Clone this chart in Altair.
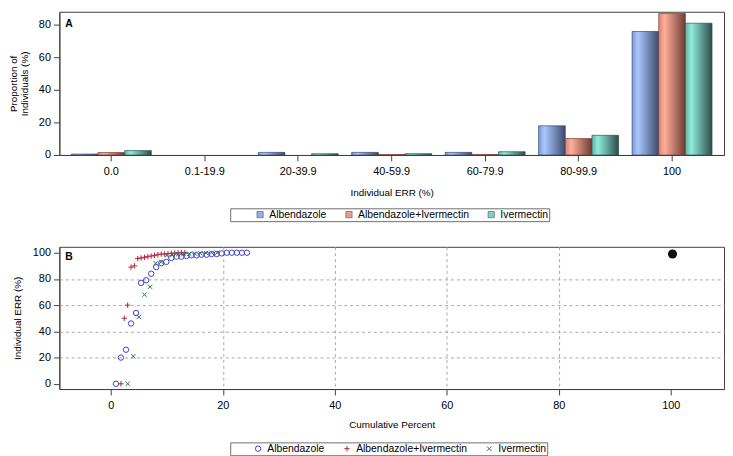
import altair as alt
import pandas as pd

# ---------------- Panel A data ----------------
err_bins = ["0.0", "0.1-19.9", "20-39.9", "40-59.9", "60-79.9", "80-99.9", "100"]
treatments = ["Albendazole", "Albendazole+Ivermectin", "Ivermectin"]
alb_pct = [0.6, 0.0, 1.6, 1.6, 1.6, 17.9, 75.9]
albiver_pct = [1.5, 0.0, 0.0, 0.3, 0.3, 10.1, 86.9]
iver_pct = [2.7, 0.0, 0.8, 0.8, 2.0, 12.1, 81.0]

# ---------------- Panel B data ----------------
alb_cum = [0.9, 1.8, 2.7, 3.6, 4.5, 5.4, 6.3, 7.2, 8.1, 9.0, 9.9, 10.8, 11.7, 12.6,
           13.5, 14.4, 15.3, 16.2, 17.1, 18.0, 18.9, 19.8, 20.7, 21.6, 22.5, 23.4, 24.3]
alb_err = [0, 20, 26, 46, 54, 77, 79, 84, 89, 92, 93, 96, 97, 97, 97.5, 98, 98,
           98.5, 98.5, 99, 99, 99.5, 100, 100, 100, 100, 100]
albiver_cum = [1.8, 2.4, 3.0, 3.6, 4.2, 4.8, 5.4, 6.0, 6.6, 7.2, 7.8, 8.4, 9.0, 9.6,
               10.2, 10.8, 11.4, 12.0, 12.6, 13.2]
albiver_err = [0, 50, 60, 89, 90, 95.5, 96, 96.5, 97, 97.5, 98, 98.5, 99, 99, 99.3,
               99.5, 99.7, 100, 100, 100]
iver_cum = [3.0, 4.0, 5.0, 6.0, 7.0, 8.0, 9.0, 10.0, 11.0, 12.0, 13.0, 14.0, 15.0,
            16.0, 17.0, 18.0, 19.0]
iver_err = [0, 21, 51, 68, 74, 92, 93, 98, 98.5, 98.8, 99, 99.2, 99.4, 99.6, 99.8,
            100, 100]
overlap_cum = [100.3]
overlap_err = [99.0]

bar_df = pd.DataFrame({
    "bin": err_bins * 3,
    "treatment": [t for t in treatments for _ in err_bins],
    "pct": alb_pct + albiver_pct + iver_pct,
})
pt_df = pd.DataFrame({
    "cum": alb_cum + albiver_cum + iver_cum,
    "err": alb_err + albiver_err + iver_err,
    "treatment": ([treatments[0]] * len(alb_cum) + [treatments[1]] * len(albiver_cum)
                  + [treatments[2]] * len(iver_cum)),
})
ov_df = pd.DataFrame({"cum": overlap_cum, "err": overlap_err})

FONT = "Liberation Sans"
flat = ["#93b0e8", "#ee9c8a", "#7ad2c2"]
dark = ["#33415e", "#6a3a30", "#2c4a46"]


def grad(c0, c1, c2):
    return {"gradient": "linear", "x1": 0, "x2": 1, "y1": 0, "y2": 0,
            "stops": [{"offset": 0, "color": c0}, {"offset": 0.22, "color": c1},
                      {"offset": 1, "color": c2}]}


grads = [grad("#7d98d0", "#aac8ff", "#3b4a6c"),
         grad("#d88574", "#ffae9a", "#6e3c32"),
         grad("#5fb2a4", "#90ecdc", "#2d4c48")]

axis_common = dict(labelFont=FONT, labelFontSize=11, labelColor="#000000",
                   titleFont=FONT, titleFontSize=10, titleFontWeight="normal",
                   titleColor="#000000", domainColor="#404040", tickColor="#404040",
                   tickSize=6)

# ---------------- Panel A ----------------
xA = alt.X("bin:N", sort=err_bins,
           scale=alt.Scale(domain=err_bins, paddingInner=0.144, paddingOuter=0.128),
           axis=alt.Axis(title="Individual ERR (%)", labelAngle=0, labelPadding=5,
                         titlePadding=11, **axis_common))
xoffA = alt.XOffset("treatment:N",
                    scale=alt.Scale(domain=treatments, paddingInner=0, paddingOuter=0))
yA = alt.Y("pct:Q", scale=alt.Scale(domain=[0, 88], nice=False),
           axis=alt.Axis(values=[0, 20, 40, 60, 80], tickCount=10,
                         title=["Proportion of", "Individuals (%)"],
                         grid=False, labelPadding=3, titlePadding=9, titleLineHeight=11,
                         **axis_common))

legA = alt.Legend(orient="none", legendX=173, legendY=199, direction="horizontal",
                  title="\u00a0", titleOrient="left", titlePadding=24, titleFontSize=10,
                  strokeColor="#6e6e6e", padding=1, symbolType="square", symbolSize=40,
                  symbolStrokeColor="#555555", symbolStrokeWidth=0.6,
                  labelFont=FONT, labelFontSize=10.5, labelColor="#000000",
                  columnPadding=17, labelOffset=4, fillColor="white")

base_bars = alt.Chart(bar_df).mark_bar().encode(
    x=xA, xOffset=xoffA, y=yA,
    color=alt.Color("treatment:N", scale=alt.Scale(domain=treatments, range=flat), legend=legA),
)
layersA = [base_bars]
for t, g, d in zip(treatments, grads, dark):
    layersA.append(
        alt.Chart(bar_df).transform_filter((alt.datum.treatment == t) & (alt.datum.pct > 0))
        .mark_bar(color=g, stroke=d, strokeWidth=0.6)
        .encode(x=xA, xOffset=xoffA, y=yA)
    )
labA = alt.Chart(pd.DataFrame({"lab": ["A"]})).mark_text(
    font=FONT, fontSize=10.5, fontWeight="bold", align="left", baseline="alphabetic",
    color="#000000").encode(text="lab:N", x=alt.value(6), y=alt.value(15))
layersA.append(labA)
panelA = alt.layer(*layersA).properties(width=673, height=145)

# ---------------- Panel B ----------------
plus_path = "M-1,0L1,0M0,-1L0,1"
x_path = "M-0.8,-0.8L0.8,0.8M-0.8,0.8L0.8,-0.8"
pt_colors = ["#4040c8", "#b8203e", "#2e7058"]
grid_cond = {"condition": {"test": "datum.value == 0 || datum.value == 100", "value": 0},
             "value": 1}

xB = alt.X("cum:Q", scale=alt.Scale(domain=[-9.2, 109.5], nice=False, zero=False),
           axis=alt.Axis(values=[0, 20, 40, 60, 80, 100], tickCount=12,
                         title="Cumulative Percent",
                         grid=True, gridDash=[3, 3], gridColor="#a8a8a8", gridOpacity=grid_cond,
                         labelPadding=5, titlePadding=9, **axis_common))
yB = alt.Y("err:Q", scale=alt.Scale(domain=[-4, 104.5], nice=False, zero=False),
           axis=alt.Axis(values=[0, 20, 40, 60, 80, 100], tickCount=12,
                         title="Individual ERR (%)",
                         grid=True, gridDash=[3, 3], gridColor="#a8a8a8", gridOpacity=grid_cond,
                         labelPadding=3, titlePadding=10, **axis_common))

legB = alt.Legend(orient="none", legendX=173, legendY=198, direction="horizontal",
                  title="\u00a0", titleOrient="left", titlePadding=22, titleFontSize=10,
                  strokeColor="#6e6e6e", padding=1, symbolSize=30, symbolStrokeWidth=1,
                  labelFont=FONT, labelFontSize=10.5, labelColor="#000000",
                  columnPadding=17, labelOffset=4, fillColor="white")

pts = alt.Chart(pt_df).mark_point(filled=False, strokeWidth=1, size=30, opacity=1).encode(
    x=xB, y=yB,
    color=alt.Color("treatment:N", scale=alt.Scale(domain=treatments, range=pt_colors), legend=legB),
    shape=alt.Shape("treatment:N",
                    scale=alt.Scale(domain=treatments, range=["circle", plus_path, x_path]),
                    legend=legB),
)
ov = alt.Chart(ov_df).mark_point(filled=True, size=85, color="#101010", opacity=1).encode(
    x="cum:Q", y="err:Q")
labB = alt.Chart(pd.DataFrame({"lab": ["B"]})).mark_text(
    font=FONT, fontSize=10.5, fontWeight="bold", align="left", baseline="alphabetic",
    color="#000000").encode(text="lab:N", x=alt.value(6), y=alt.value(13.5))
panelB = alt.layer(pts, ov, labB).properties(width=673, height=144)

chart = alt.vconcat(panelA, panelB, spacing=24).resolve_scale(
    color="independent", shape="independent"
).configure(padding=0).configure_view(stroke="#404040", strokeWidth=1)

chart.save("out.html", embed_options={"renderer": "svg", "actions": False})
